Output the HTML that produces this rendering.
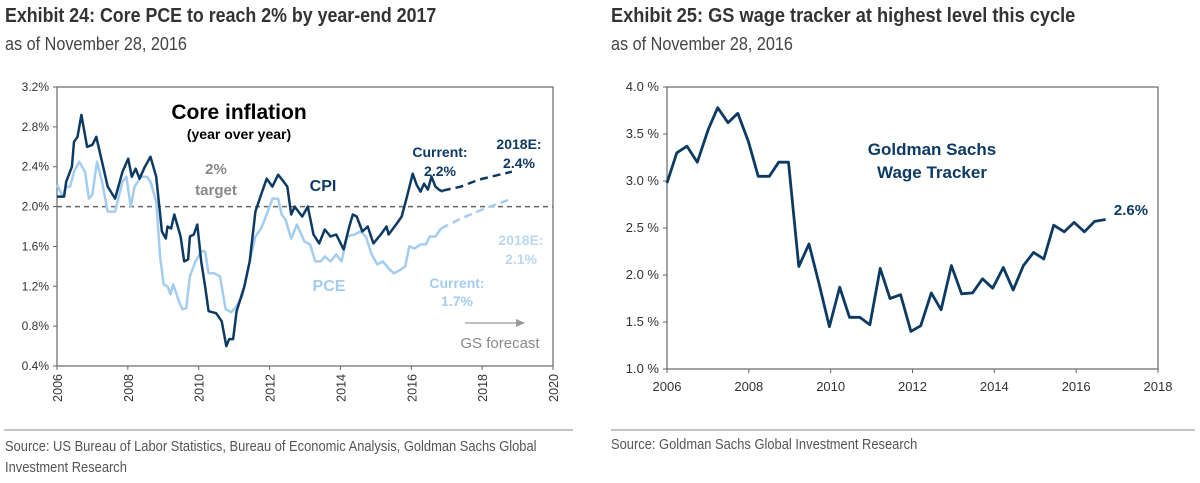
<!DOCTYPE html>
<html><head><meta charset="utf-8">
<style>
body{margin:0;background:#fff;width:1200px;height:483px;overflow:hidden;font-family:"Liberation Sans",sans-serif;}
.t{position:absolute;white-space:nowrap;transform-origin:0 0;}
</style></head><body>
<div class="t" style="left:5px;top:5px;font-size:20px;font-weight:bold;color:#333;transform:scaleX(0.89)">Exhibit 24: Core PCE to reach 2% by year-end 2017</div>
<div class="t" style="left:5px;top:34px;font-size:18px;color:#444;transform:scaleX(0.9)">as of November 28, 2016</div>
<div class="t" style="left:611px;top:5px;font-size:20px;font-weight:bold;color:#333;transform:scaleX(0.91)">Exhibit 25: GS wage tracker at highest level this cycle</div>
<div class="t" style="left:611px;top:34px;font-size:18px;color:#444;transform:scaleX(0.9)">as of November 28, 2016</div>
<div class="t" style="left:5px;top:437px;font-size:14.5px;color:#555;line-height:21px;transform:scaleX(0.89)">Source: US Bureau of Labor Statistics, Bureau of Economic Analysis, Goldman Sachs Global<br>Investment Research</div>
<div class="t" style="left:611px;top:437px;font-size:14.5px;color:#555;transform:scaleX(0.89)">Source: Goldman Sachs Global Investment Research</div>
<svg id="svg" width="1200" height="483" style="position:absolute;left:0;top:0" xmlns="http://www.w3.org/2000/svg">
<line x1="4" y1="430" x2="573" y2="430" stroke="#888" stroke-width="1"/>
<line x1="611" y1="430" x2="1195" y2="430" stroke="#888" stroke-width="1"/>
</svg>
<script>
// Left chart data
const cpiYears=[2006.0,2006.2,2006.26,2006.42,2006.48,2006.58,2006.69,2006.85,2007.0,2007.11,2007.27,2007.43,2007.64,2007.85,2008.01,2008.11,2008.22,2008.33,2008.48,2008.64,2008.8,2008.96,2009.07,2009.12,2009.22,2009.31,2009.49,2009.59,2009.7,2009.75,2009.86,2009.96,2010.07,2010.18,2010.28,2010.49,2010.65,2010.78,2010.86,2010.97,2011.07,2011.29,2011.44,2011.6,2011.76,2011.92,2012.08,2012.24,2012.4,2012.5,2012.61,2012.71,2012.92,2013.08,2013.24,2013.4,2013.56,2013.72,2013.88,2014.09,2014.25,2014.35,2014.46,2014.62,2014.77,2014.93,2015.14,2015.3,2015.36,2015.57,2015.73,2015.88,2016.04,2016.15,2016.26,2016.36,2016.47,2016.57,2016.68,2016.78,2016.89];
const cpiValues=[2.1,2.1,2.25,2.4,2.65,2.7,2.92,2.6,2.62,2.7,2.45,2.2,2.08,2.35,2.48,2.3,2.38,2.28,2.4,2.5,2.3,1.75,1.68,1.8,1.78,1.92,1.7,1.45,1.47,1.7,1.72,1.82,1.45,1.2,0.95,0.93,0.85,0.6,0.67,0.67,0.95,1.2,1.45,1.95,2.12,2.28,2.2,2.32,2.25,2.2,1.92,2.0,1.9,2.0,1.72,1.63,1.77,1.7,1.72,1.57,1.8,1.92,1.9,1.75,1.8,1.63,1.72,1.8,1.72,1.82,1.9,2.1,2.33,2.22,2.15,2.23,2.17,2.3,2.2,2.17,2.15];
const cpiFcYears=[2016.89,2017.4,2017.9,2018.84];
const cpiFcValues=[2.16,2.2,2.27,2.35];
const pceYears=[2006.0,2006.16,2006.26,2006.37,2006.48,2006.63,2006.79,2006.9,2007.0,2007.13,2007.27,2007.43,2007.64,2007.85,2007.96,2008.08,2008.19,2008.38,2008.54,2008.64,2008.8,2008.91,2009.01,2009.12,2009.2,2009.28,2009.44,2009.54,2009.65,2009.75,2009.91,2010.07,2010.18,2010.28,2010.44,2010.6,2010.76,2010.92,2011.07,2011.23,2011.44,2011.6,2011.76,2011.92,2012.08,2012.24,2012.34,2012.45,2012.61,2012.77,2012.98,2013.14,2013.29,2013.45,2013.56,2013.72,2013.88,2014.03,2014.19,2014.4,2014.56,2014.72,2014.88,2015.04,2015.2,2015.36,2015.51,2015.67,2015.83,2015.94,2016.1,2016.26,2016.41,2016.52,2016.68,2016.84];
const pceValues=[2.22,2.1,2.2,2.2,2.35,2.45,2.35,2.08,2.12,2.45,2.25,1.95,1.95,2.25,2.3,2.0,2.2,2.3,2.3,2.25,2.05,1.5,1.22,1.2,1.12,1.22,1.05,0.97,0.98,1.3,1.45,1.55,1.55,1.33,1.33,1.3,0.97,0.94,1.0,1.1,1.45,1.7,1.78,1.92,2.08,2.08,1.92,1.87,1.68,1.82,1.65,1.62,1.45,1.45,1.5,1.45,1.52,1.45,1.7,1.72,1.75,1.7,1.52,1.42,1.45,1.38,1.33,1.36,1.4,1.6,1.58,1.62,1.62,1.7,1.7,1.78];
const pceFcYears=[2016.84,2017.4,2018.0,2018.84];
const pceFcValues=[1.78,1.88,1.97,2.08];
const leftYTicks=[0.4,0.8,1.2,1.6,2.0,2.4,2.8,3.2];
const leftXTicks=[2006,2008,2010,2012,2014,2016,2018,2020];
// Right chart data
const wageYears=[2006.0,2006.24,2006.49,2006.74,2007.01,2007.24,2007.49,2007.73,2007.99,2008.23,2008.5,2008.73,2008.97,2009.22,2009.47,2009.72,2009.97,2010.22,2010.46,2010.71,2010.96,2011.21,2011.45,2011.71,2011.96,2012.2,2012.46,2012.7,2012.95,2013.2,2013.47,2013.71,2013.96,2014.22,2014.46,2014.71,2014.96,2015.21,2015.45,2015.71,2015.95,2016.2,2016.45,2016.72];
const wageValues=[2.98,3.3,3.37,3.2,3.55,3.78,3.62,3.72,3.42,3.05,3.05,3.2,3.2,2.09,2.33,1.9,1.45,1.87,1.55,1.55,1.47,2.07,1.75,1.79,1.4,1.46,1.81,1.63,2.1,1.8,1.81,1.96,1.86,2.08,1.84,2.1,2.24,2.17,2.53,2.46,2.56,2.46,2.57,2.59];
const rightYTicks=[1.0,1.5,2.0,2.5,3.0,3.5,4.0];
const rightXTicks=[2006,2008,2010,2012,2014,2016,2018];

const svg=document.getElementById('svg');
const NS='http://www.w3.org/2000/svg';
function mk(tag,attrs,parent){const e=document.createElementNS(NS,tag);for(const k in attrs)e.setAttribute(k,attrs[k]);(parent||svg).appendChild(e);return e;}
function txt(x,y,s,attrs){const e=mk('text',Object.assign({x:x,y:y,'font-family':'Liberation Sans, sans-serif'},attrs));e.textContent=s;return e;}

const L={x0:57,x1:553,y0:366,y1:87,xmin:2006,xmax:2020,ymin:0.4,ymax:3.2};
const lx=v=>L.x0+(v-L.xmin)/(L.xmax-L.xmin)*(L.x1-L.x0);
const ly=v=>L.y0-(v-L.ymin)/(L.ymax-L.ymin)*(L.y0-L.y1);
const R={x0:667,x1:1158,y0:369,y1:87,xmin:2006,xmax:2018,ymin:1.0,ymax:4.0};
const rx=v=>R.x0+(v-R.xmin)/(R.xmax-R.xmin)*(R.x1-R.x0);
const ry=v=>R.y0-(v-R.ymin)/(R.ymax-R.ymin)*(R.y0-R.y1);

let f=mk('rect',{x:L.x0,y:L.y1,width:L.x1-L.x0,height:L.y0-L.y1,fill:'none',stroke:'#666','stroke-width':1.2});


leftYTicks.forEach(v=>{
  let t=txt(L.x0-8,ly(v)+4,v.toFixed(1)+'%',{'font-size':12,fill:'#333','text-anchor':'end'});
  
  
  mk('line',{x1:L.x0-4,x2:L.x0,y1:ly(v),y2:ly(v),stroke:'#666'});
});
leftXTicks.forEach(v=>{
  mk('line',{x1:lx(v),x2:lx(v),y1:L.y0,y2:L.y0+4,stroke:'#666'});
  let t=txt(0,0,String(v),{'font-size':12.5,fill:'#333','text-anchor':'end',transform:`translate(${lx(v)+5},${L.y0+8}) rotate(-90)`});
  
  
});
let tl=mk('line',{x1:L.x0,x2:L.x1,y1:ly(2.0),y2:ly(2.0),stroke:'#666','stroke-width':1.5,'stroke-dasharray':'5,4'});


function path(xs,ys,fx,fy,attrs,name){
  const d=xs.map((x,i)=>(i?'L':'M')+fx(x).toFixed(1)+','+fy(ys[i]).toFixed(1)).join(' ');
  const p=mk('path',Object.assign({d:d,fill:'none','stroke-linejoin':'round'},attrs));
  
  
  return p;
}
path(pceYears,pceValues,lx,ly,{stroke:'#a3cdef','stroke-width':2.5},'pce-line');
path(pceFcYears,pceFcValues,lx,ly,{stroke:'#a3cdef','stroke-width':2.5,'stroke-dasharray':'8,5'},'pce-forecast-line');
path(cpiYears,cpiValues,lx,ly,{stroke:'#0d3a63','stroke-width':2.5},'cpi-line');
path(cpiFcYears,cpiFcValues,lx,ly,{stroke:'#0d3a63','stroke-width':2.5,'stroke-dasharray':'8,5'},'cpi-forecast-line');
function lab(x,y,s,size,col,anchor,name){let t=txt(x,y,s,{'font-size':size,'font-weight':'bold',fill:col,'text-anchor':anchor||'middle'});return t;}
lab(239,119,'Core inflation',21,'#000','middle','chart-title');
lab(239,139,'(year over year)',14,'#000','middle','chart-subtitle');
lab(216,174,'2%',15,'#888','middle','target-label');
lab(216,195,'target',15,'#888','middle','target-label-2');
lab(323,191,'CPI',16,'#0d3a63','middle','cpi-label');
lab(329,291,'PCE',16,'#a3cdef','middle','pce-label');
lab(440,157,'Current:',14,'#0d3a63','middle','cpi-current-label');
lab(440,176,'2.2%',14,'#0d3a63','middle','cpi-current-value');
lab(519,149,'2018E:',14,'#0d3a63','middle','cpi-2018e-label');
lab(519,168,'2.4%',14,'#0d3a63','middle','cpi-2018e-value');
lab(521,245,'2018E:',14,'#bcd8ef','middle','pce-2018e-label');
lab(521,264,'2.1%',14,'#bcd8ef','middle','pce-2018e-value');
lab(457,288,'Current:',14,'#a3cdef','middle','pce-current-label');
lab(457,306,'1.7%',14,'#a3cdef','middle','pce-current-value');
mk('line',{x1:465,x2:522,y1:323,y2:323,stroke:'#999','stroke-width':1.2});
mk('path',{d:'M516,319 L525,323 L516,327 Z',fill:'#999'});
let gs=txt(500,348,'GS forecast',{'font-size':15,fill:'#888','text-anchor':'middle'});



f=mk('rect',{x:R.x0,y:R.y1,width:R.x1-R.x0,height:R.y0-R.y1,fill:'none',stroke:'#666','stroke-width':1.2});


rightYTicks.forEach(v=>{
  let t=txt(R.x0-8,ry(v)+4,v.toFixed(1)+' %',{'font-size':13,fill:'#333','text-anchor':'end'});
  
  
  mk('line',{x1:R.x0-4,x2:R.x0,y1:ry(v),y2:ry(v),stroke:'#666'});
});
rightXTicks.forEach(v=>{
  mk('line',{x1:rx(v),x2:rx(v),y1:R.y0,y2:R.y0+4,stroke:'#666'});
  let t=txt(rx(v),R.y0+22,String(v),{'font-size':13,fill:'#333','text-anchor':'middle'});
  
  
});
path(wageYears,wageValues,rx,ry,{stroke:'#0d3a63','stroke-width':2.8},'wage-tracker-line');
lab(932,155,'Goldman  Sachs',17,'#0d3a63','middle','wage-chart-title');
lab(932,178,'Wage Tracker',17,'#0d3a63','middle','wage-chart-title-2');
lab(1131,215,'2.6%',15,'#0d3a63','middle','wage-latest-label');
</script>
</body></html>
